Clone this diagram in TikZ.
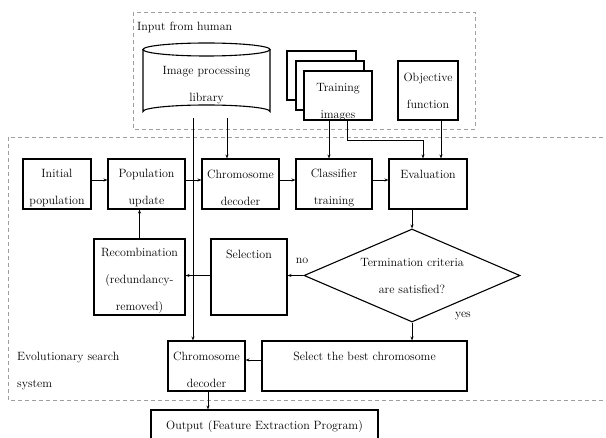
\documentclass[tikz,border=0pt]{standalone}
\usetikzlibrary{shapes.geometric,arrows.meta}
\newcommand{\topstrut}{\rule{0pt}{17pt}}
\begin{document}
\begin{tikzpicture}[x=1pt,y=-1pt,
  txt/.style={font=\fontsize{12}{27}\selectfont, align=center},
  box/.style={txt, draw, line width=1.1pt, inner sep=0pt},
  dash box/.style={draw=gray!75, dashed, line width=0.9pt, dash pattern=on 4pt off 3pt},
  conn/.style={line width=0.7pt, -{Stealth[length=4pt,width=3pt]}},
  plain/.style={line width=0.7pt}]
\useasboundingbox (0,0) rectangle (606,438);
\clip (0,0) rectangle (606,438);
% dashed regions
\draw[dash box] (133,12) rectangle (475,129);
\draw[dash box] (8,137) rectangle (620,400);
\node[txt, anchor=west, inner sep=0] (inlab) at (137,27) {Input from human};
\node[txt, align=left, anchor=west, inner sep=0] (evlab) at (17,371) {Evolutionary search\\system};
% cylinder
\draw[line width=1.1pt] (143,49.5) -- (143,111.5) arc[start angle=180,end angle=360,x radius=63.5,y radius=6.5] -- (270,49.5);
\draw[line width=1.1pt] (206.5,49.5) ellipse[x radius=63.5,y radius=6.5];
\node[minimum width=127, minimum height=75, inner sep=0] (lib) at (206.5,80.5) {};
\node[txt, inner sep=0] (libtxt) at (206.5,85) {Image processing\\library};
% training images stack
\draw[line width=1.1pt, fill=white] (287,51) rectangle (356,100);
\draw[line width=1.1pt, fill=white] (296,61) rectangle (364,110);
\node[box, fill=white, minimum width=68, minimum height=49] (train) at (338,95.5) {};
\node[txt, inner sep=0] (traintxt) at (338,102) {Training\\images};
\node[box, minimum width=60, minimum height=59] (obj) at (428,90.5) {Objective\\function};
% main row
\node[box, minimum width=68, minimum height=50] (init) at (57,184) {\topstrut Initial\\population};
\node[box, minimum width=77, minimum height=50] (popu) at (146.5,184) {\topstrut Population\\update};
\node[box, minimum width=77, minimum height=50] (dec1) at (240.5,184) {\topstrut Chromosome\\decoder};
\node[box, minimum width=76, minimum height=50] (clf) at (334,184) {\topstrut Classifier\\training};
\node[box, minimum width=78, minimum height=50] (eval) at (428,184) {\topstrut Evaluation\\\mbox{}};
% second row
\node[box, minimum width=91, minimum height=76] (recomb) at (139.5,277) {\topstrut Recombination\\(redundancy-\\removed)};
\node[box, minimum width=76, minimum height=76] (sel) at (249,277) {\topstrut Selection\\\mbox{}\\\mbox{}};
\node[box, shape=diamond, shape aspect=2.32, minimum width=216, minimum height=93] (term) at (412,275.5) {Termination criteria\\are satisfied?};
% third row
\node[box, minimum width=205, minimum height=50] (best) at (364.5,366) {\topstrut Select the best chromosome\\\mbox{}};
\node[box, minimum width=77, minimum height=50] (dec2) at (206.5,366) {\topstrut Chromosome\\decoder};
\node[box, minimum width=227, minimum height=40] (out) at (264.5,430) {\mbox{}};
\node[txt, inner sep=0] (outtxt) at (264.5,427) {Output (Feature Extraction Program)};
% labels
\node[txt, inner sep=0] (nolab) at (302,261) {no};
\node[txt, inner sep=0] (yeslab) at (463,316) {yes};
% connectors
\draw[conn] ([xshift=20.5pt]lib.south) -- ([xshift=20.5pt]lib.south |- dec1.north);
\draw[conn] ([xshift=-13.5pt]lib.south) -- ([xshift=-13.5pt]lib.south |- dec2.north);
\draw[conn] ([xshift=-9pt]train.south) -- ([xshift=-9pt]train.south |- clf.north);
\coordinate (tA) at ([xshift=9pt,yshift=-20pt]train.south);
\coordinate (tB) at ([xshift=-5pt]eval.north |- tA);
\draw[conn] ([xshift=9pt]train.south) -- (tA) -- (tB) -- (tB |- eval.north);
\draw[conn] ([xshift=13pt]obj.south) -- ([xshift=13pt]obj.south |- eval.north);
\draw[conn] ([yshift=4pt]init.east) -- ([yshift=4pt]popu.west);
\draw[conn] ([yshift=4pt]popu.east) -- ([yshift=4pt]dec1.west);
\draw[conn] ([yshift=4pt]dec1.east) -- ([yshift=4pt]clf.west);
\draw[conn] ([yshift=4pt]clf.east) -- ([yshift=4pt]eval.west);
\draw[conn] (term.north |- eval.south) -- (term.north);
\draw[conn] (term.west) -- (term.west -| sel.east);
\draw[conn] (term.west -| sel.west) -- (term.west -| recomb.east);
\draw[conn] (recomb.north) -- (recomb.north |- popu.south);
\draw[conn] (term.south) -- (term.south |- best.north);
\draw[conn] ([yshift=6pt]best.west) -- ([yshift=6pt]dec2.east);
\draw[conn] ([xshift=1.5pt]dec2.south) -- ([xshift=1.5pt]dec2.south |- out.north);
\end{tikzpicture}
\end{document}
